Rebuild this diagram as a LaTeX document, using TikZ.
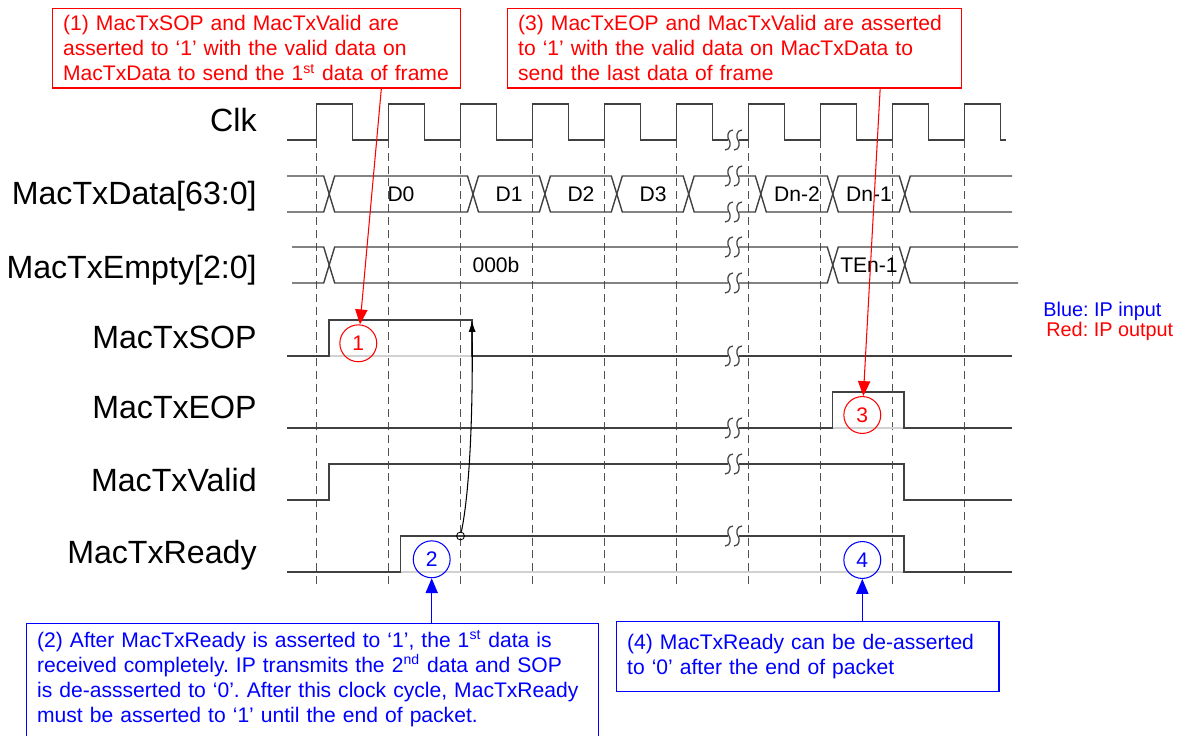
\documentclass[tikz,border=0pt]{standalone}
\usepackage{fontspec}
\setmainfont{Liberation Sans}
\usepackage{tikz}
\usetikzlibrary{arrows.meta, positioning}
\frenchspacing
\tikzstyle{wave} = [draw=black!75, line width=0.8pt]
\tikzstyle{idleline} = [draw=black!18, line width=0.8pt]
\tikzstyle{gridline} = [draw=black!68, line width=0.8pt, dash pattern=on 4.5pt off 2.8pt]
\tikzstyle{breakline} = [draw=black!75, line width=0.7pt]
\tikzstyle{signame} = [anchor=east, inner sep=0pt, text height=13pt, text depth=0pt, font=\fontsize{18.3}{21}\selectfont]
\tikzstyle{busname} = [inner sep=0pt, text height=8.6pt, text depth=0pt, font=\fontsize{12}{14}\selectfont]
\tikzstyle{notered} = [rectangle, draw=red, line width=0.7pt, text=red, align=left, anchor=north west, inner xsep=6pt, inner ysep=4pt, font=\fontsize{12}{14.2}\selectfont]
\tikzstyle{noteblue} = [rectangle, draw=blue, line width=0.7pt, text=blue, align=left, anchor=north west, inner xsep=6pt, inner ysep=4pt, font=\fontsize{12}{14.2}\selectfont]
\tikzstyle{markred} = [circle, draw=red, line width=0.6pt, text=red, minimum size=21pt, inner sep=0pt, font=\fontsize{12}{14}\selectfont]
\tikzstyle{markblue} = [circle, draw=blue, line width=0.6pt, text=blue, minimum size=21pt, inner sep=0pt, font=\fontsize{12}{14}\selectfont]
\tikzstyle{redarrow} = [draw=red, line width=0.6pt, -{Triangle[length=8.5pt,width=7pt]}, red]
\tikzstyle{bluearrow} = [draw=blue, line width=0.6pt, -{Triangle[length=8.5pt,width=7pt]}, blue]
\tikzstyle{arrow} = [black, line width=0.6pt, -{Latex[length=6.5pt,width=4pt]}]
\tikzstyle{tapdot} = [circle, draw=black, line width=0.5pt, minimum size=4.5pt, inner sep=0pt]
\tikzstyle{legend} = [anchor=west, inner sep=0pt, font=\fontsize{11.3}{13}\selectfont]
% cut mark on a line, #1 = y of the line
\newcommand{\gapmark}[1]{%
  \draw[breakline] (733,#1-10) .. controls (727,#1-10) and (727,#1-2) .. (729,#1) .. controls (731,#1+2) and (731,#1+10) .. (725,#1+10);
  \draw[breakline] (742,#1-10) .. controls (736,#1-10) and (736,#1-2) .. (738,#1) .. controls (740,#1+2) and (740,#1+10) .. (734,#1+10);
}

\begin{document}
\begin{tikzpicture}[x=0.02cm, y=-0.02cm]
\useasboundingbox (0,0) rectangle (1188,736);

% Clock edges
\draw[gridline] (316.7,140) -- (316.7,584);
\draw[gridline] (388.6,140) -- (388.6,584);
\draw[gridline] (460.5,140) -- (460.5,584);
\draw[gridline] (532.4,140) -- (532.4,584);
\draw[gridline] (604.3,140) -- (604.3,584);
\draw[gridline] (676.2,140) -- (676.2,584);
\draw[gridline] (748.3,140) -- (748.3,584);
\draw[gridline] (820.3,140) -- (820.3,584);
\draw[gridline] (892.3,140) -- (892.3,584);
\draw[gridline] (964.3,140) -- (964.3,584);

% Signal names
\node (lclk) [signame] at (257,120) {Clk};
\node (ldata) [signame] at (257,193) {MacTxData[63:0]};
\node (lempty) [signame] at (257,267) {MacTxEmpty[2:0]};
\node (lsop) [signame] at (257,337) {MacTxSOP};
\node (leop) [signame] at (257,407) {MacTxEOP};
\node (lvalid) [signame] at (257,480) {MacTxValid};
\node (lready) [signame] at (257,552) {MacTxReady};

% Clk
\draw[wave] (287,140) -| (316.7,104) -| (352.7,140) -| (388.6,104) -| (424.6,140) -| (460.5,104) -| (496.5,140) -| (532.4,104) -| (568.4,140) -| (604.3,104) -| (640.3,140) -| (676.2,104) -| (712.2,140) -- (728,140);
\draw[wave] (739,140) -| (748.3,104) -| (784.3,140) -| (820.3,104) -| (856.3,140) -| (892.3,104) -| (928.3,140) -| (964.3,104) -| (1000.3,140) -- (1006,140);

% MacTxData
\draw[wave] (287,176) -- (323.7,176) -- (334.7,212) -- (467.5,212) -- (478.5,176) -- (539.4,176) -- (550.4,212) -- (611.3,212) -- (622.3,176) -- (683.2,176) -- (694.2,212) -- (728,212);
\draw[wave] (287,212) -- (323.7,212) -- (334.7,176) -- (467.5,176) -- (478.5,212) -- (539.4,212) -- (550.4,176) -- (611.3,176) -- (622.3,212) -- (683.2,212) -- (694.2,176) -- (728,176);
\draw[wave] (739,176) -- (755.3,176) -- (766.3,212) -- (827.3,212) -- (838.3,176) -- (899.3,176) -- (910.3,212) -- (1012,212);
\draw[wave] (739,212) -- (755.3,212) -- (766.3,176) -- (827.3,176) -- (838.3,212) -- (899.3,212) -- (910.3,176) -- (1012,176);
\node (d0) [busname] at (401,194) {D0};
\node (d1) [busname] at (509,194) {D1};
\node (d2) [busname] at (581,194) {D2};
\node (d3) [busname] at (653,194) {D3};
\node (dn2) [busname] at (797,194) {Dn-2};
\node (dn1) [busname] at (869,194) {Dn-1};

% MacTxEmpty
\draw[wave] (292,247) -- (323.7,247) -- (334.7,283) -- (728,283);
\draw[wave] (292,283) -- (323.7,283) -- (334.7,247) -- (728,247);
\draw[wave] (739,247) -- (827.3,247) -- (838.3,283) -- (899.3,283) -- (910.3,247) -- (1018,247);
\draw[wave] (739,283) -- (827.3,283) -- (838.3,247) -- (899.3,247) -- (910.3,283) -- (1018,283);
\node (e0) [busname] at (496,265) {000b};
\node (en1) [busname] at (869,265) {TEn-1};

% MacTxSOP
\draw[idleline] (329,356) -- (472,356);
\draw[wave] (287,356) -| (329,320) -| (472,356) -- (728,356);
\draw[wave] (739,356) -- (1012,356);

% MacTxEOP
\draw[idleline] (832.3,428) -- (904,428);
\draw[wave] (287,428) -- (728,428);
\draw[wave] (739,428) -| (832.3,392) -| (904,428) -- (1012,428);

% MacTxValid
\draw[wave] (287,500) -| (329,464) -- (728,464);
\draw[wave] (739,464) -| (904,500) -- (1012,500);

% MacTxReady
\draw[idleline] (400.7,572) -- (904,572);
\draw[wave] (287,572) -| (400.7,536) -- (728,536);
\draw[wave] (739,536) -| (904,572) -- (1012,572);

% Cut marks
\gapmark{140}
\gapmark{176}
\gapmark{212}
\gapmark{247}
\gapmark{283}
\gapmark{356}
\gapmark{428}
\gapmark{464}
\gapmark{536}

% Ready -> SOP dependency
\node (tap) [tapdot] at (460.5,536) {};
\coordinate (sopfall) at (472,320.5);
\draw[arrow] (tap) .. controls (470,490) and (473,410) .. (sopfall);

% Numbered marks
\node (n1) [markred] at (358.3,343.3) {1};
\node (n2) [markblue] at (431.7,559.3) {2};
\node (n3) [markred] at (862.3,415) {3};
\node (n4) [markblue] at (862.3,560) {4};

% Notes
\node (note1) [notered, text width=220pt] at (52,8) {(1) MacTxSOP and MacTxValid are\\asserted to ‘1’ with the valid data on\\MacTxData to send the 1\textsuperscript{st} data of frame};
\node (note3) [notered, text width=246.5pt] at (507,8) {(3) MacTxEOP and MacTxValid are asserted\\to ‘1’ with the valid data on MacTxData to\\send the last data of frame};
\node (note2) [noteblue, text width=313.4pt] at (26,623) {(2) After MacTxReady is asserted to ‘1’, the 1\textsuperscript{st} data is\\received completely. IP transmits the 2\textsuperscript{nd} data and SOP\\is de-assserted to ‘0’. After this clock cycle, MacTxReady\\must be asserted to ‘1’ until the end of packet.\\ \mbox{}};
\node (note4) [noteblue, text width=205.7pt, minimum height=39.7pt] at (616,621) {(4) MacTxReady can be de-asserted\\to ‘0’ after the end of packet};

% Arrows
\draw[redarrow] ([xshift=71.1pt]note1.south) -- (n1);
\draw[redarrow] ([xshift=82.8pt]note3.south) -- (n3);
\draw[bluearrow] (n2 |- note2.north) -- (n2);
\draw[bluearrow] (n4 |- note4.north) -- (n4);

% Legend
\node (lgblue) [legend, text=blue] at (1043,311) {Blue: IP input};
\node (lgred) [legend, text=red] at (1046,331) {Red: IP output};

\end{tikzpicture}
\end{document}
